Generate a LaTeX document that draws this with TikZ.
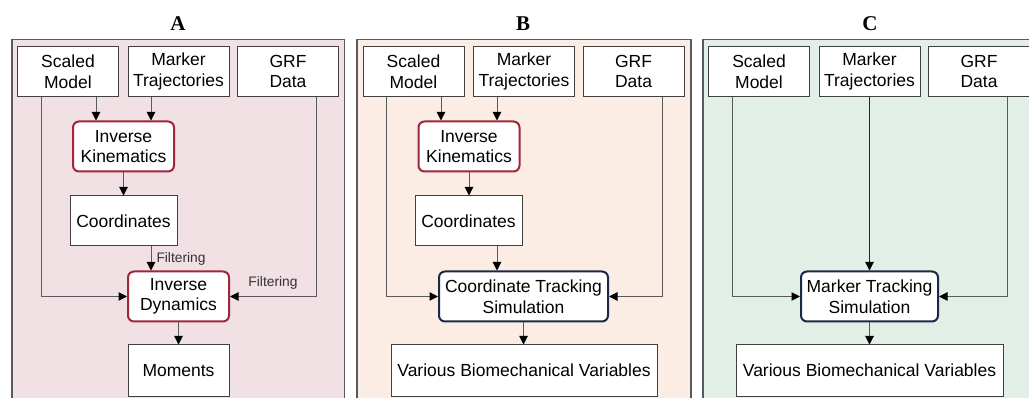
\documentclass[tikz,border=0pt]{standalone}
\usepackage{fontspec}
\setmainfont{Liberation Sans}
\newfontfamily\titlefont{Liberation Serif}
\definecolor{panelA}{RGB}{241,224,228}
\definecolor{panelB}{RGB}{251,237,228}
\definecolor{panelC}{RGB}{226,239,231}
\definecolor{ikred}{RGB}{160,38,58}
\definecolor{simnavy}{RGB}{27,40,70}
\definecolor{linegray}{RGB}{90,90,90}
\usetikzlibrary{arrows.meta, positioning}
\newcommand\boxfont{\fontsize{17.5}{20.5}\selectfont}
\newcommand\filtfont{\fontsize{13.8}{15}\selectfont}
\newcommand\panelfont{\titlefont\bfseries\fontsize{21}{24}\selectfont}

\begin{document}
\begin{tikzpicture}[x=1pt, y=-1pt,
  panel/.style={draw=linegray, line width=1.3pt},
  databox/.style={draw=black!75, line width=1pt, fill=white, font=\boxfont, align=center, inner sep=2pt, minimum width=101pt, minimum height=50pt},
  ikbox/.style={databox, draw=ikred, line width=2pt, rounded corners=6pt},
  simbox/.style={databox, draw=simnavy, line width=2pt, rounded corners=6pt},
  arr/.style={draw=linegray, line width=1pt, -{Triangle[length=8.5pt, width=8.5pt, black]}},
  filt/.style={font=\filtfont, text=black!80}]

  \useasboundingbox (0,0) rectangle (1029,398);
  \clip (0,0) rectangle (1029,398);

  % Panels
  \draw[panel, fill=panelA] (12,39.5) rectangle (344.5,420);
  \draw[panel, fill=panelB] (357,39.5) rectangle (691,420);
  \draw[panel, fill=panelC] (703,39.5) rectangle (1040,420);
  \node[font=\panelfont] (tA) at (178,24) {A};
  \node[font=\panelfont] (tB) at (523,24) {B};
  \node[font=\panelfont] (tC) at (870,24) {C};

  % Panel A: inverse dynamics
  \node[databox] (smA) at (68,71.5) {Scaled\\Model};
  \node[databox] (mtA) at (178.5,71.5) {Marker\\Trajectories};
  \node[databox] (grfA) at (288,71.5) {GRF\\Data};
  \node[ikbox] (ikA) at (123.5,146.5) {Inverse\\Kinematics};
  \node[databox, minimum width=107pt] (coA) at (123.5,221) {Coordinates};
  \node[ikbox] (idA) at (178.5,296.5) {Inverse\\Dynamics};
  \node[databox, minimum height=51pt] (moA) at (178.5,370.5) {Moments};

  \draw[arr] ([xshift=-27.5pt]ikA.north |- smA.south) -- ([xshift=-27.5pt]ikA.north);
  \draw[arr] ([xshift=27.5pt]ikA.north |- mtA.south) -- ([xshift=27.5pt]ikA.north);
  \draw[arr] (ikA) -- (coA);
  \draw[arr] ([xshift=-27.5pt]idA.north |- coA.south) -- ([xshift=-27.5pt]idA.north) node[filt, midway, right, inner sep=5pt] {Filtering};
  \draw[arr] ([xshift=-27pt]smA.south) |- (idA.west);
  \draw[arr] ([xshift=28pt]grfA.south) |- (idA.east) node[filt, pos=0.75, above, yshift=3pt] {Filtering};
  \draw[arr] (idA) -- (moA);

  % Panel B: coordinate tracking
  \node[databox] (smB) at (413.5,71.5) {Scaled\\Model};
  \node[databox] (mtB) at (524,71.5) {Marker\\Trajectories};
  \node[databox] (grfB) at (633.5,71.5) {GRF\\Data};
  \node[ikbox] (ikB) at (469,146.5) {Inverse\\Kinematics};
  \node[databox, minimum width=107pt] (coB) at (468.5,221) {Coordinates};
  \node[simbox, minimum width=169pt] (ctsB) at (523.5,296.5) {Coordinate Tracking\\Simulation};
  \node[databox, minimum width=266pt, minimum height=51pt] (vbB) at (524,370.5) {Various Biomechanical Variables};

  \draw[arr] ([xshift=-28pt]ikB.north |- smB.south) -- ([xshift=-28pt]ikB.north);
  \draw[arr] ([xshift=28pt]ikB.north |- mtB.south) -- ([xshift=28pt]ikB.north);
  \draw[arr] (ikB) -- (ikB |- coB.north);
  \draw[arr] ([xshift=28.5pt]coB.south) -- ([xshift=28.5pt]coB.south |- ctsB.north);
  \draw[arr] ([xshift=-27.5pt]smB.south) |- (ctsB.west);
  \draw[arr] ([xshift=28.5pt]grfB.south) |- (ctsB.east);
  \draw[arr] (ctsB) -- (ctsB |- vbB.north);

  % Panel C: marker tracking
  \node[databox] (smC) at (759,71.5) {Scaled\\Model};
  \node[databox] (mtC) at (869.5,71.5) {Marker\\Trajectories};
  \node[databox] (grfC) at (979,71.5) {GRF\\Data};
  \node[simbox, minimum width=137pt] (mtsC) at (869.5,296.5) {Marker Tracking\\Simulation};
  \node[databox, minimum width=267pt, minimum height=51pt] (vbC) at (869.5,370.5) {Various Biomechanical Variables};

  \draw[arr] ([xshift=-27pt]smC.south) |- (mtsC.west);
  \draw[arr, draw=black!85] (mtC) -- (mtsC);
  \draw[arr] ([xshift=28pt]grfC.south) |- (mtsC.east);
  \draw[arr] (mtsC) -- (vbC);
\end{tikzpicture}
\end{document}
